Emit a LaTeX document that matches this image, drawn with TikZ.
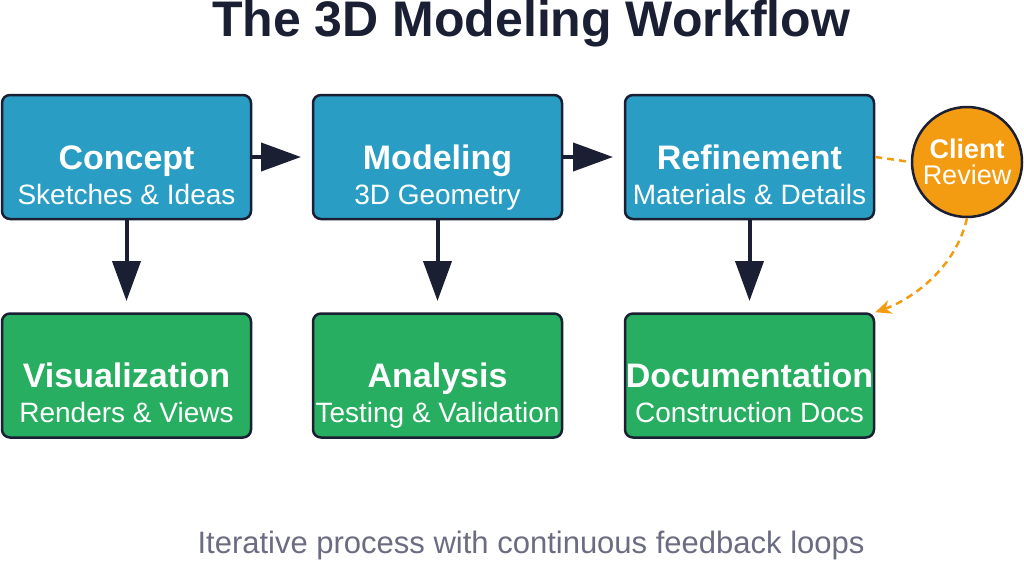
\documentclass[tikz,border=0pt]{standalone}
\usepackage{fontspec}
\setmainfont{Liberation Sans}
\usetikzlibrary{arrows.meta}
\definecolor{dk}{HTML}{1B1F33}
\definecolor{bl}{HTML}{2A9DC4}
\definecolor{gr}{HTML}{27AE60}
\definecolor{orng}{HTML}{F39C12}
\definecolor{gy}{HTML}{6B6C82}
\tikzset{
 box/.style={draw=dk,line width=2.5pt,rounded corners=8pt,minimum width=249pt,minimum height=124pt,inner sep=0pt},
 blue box/.style={box,fill=bl},
 green box/.style={box,fill=gr},
 head/.style={text=white,inner sep=0pt,anchor=base,font=\fontsize{34}{38}\selectfont\bfseries},
 sub/.style={text=white,inner sep=0pt,anchor=base,font=\fontsize{28}{32}\selectfont},
 flow/.style={draw=dk,line width=4pt,-{Triangle[length=40pt,width=28pt]}},
 dash line/.style={draw=orng,line width=2.5pt,dash pattern=on 7pt off 5pt},
}
\begin{document}
\begin{tikzpicture}[x=1pt,y=-1pt]
\useasboundingbox (0,0) rectangle (1024,560);
\node[text=dk,anchor=base,inner sep=0pt,font=\fontsize{50}{54}\selectfont\bfseries] (title) at (531,36) {The 3D Modeling Workflow};
\node[blue box] (c) at (126.5,157) {};
\node[blue box] (m) at (437.5,157) {};
\node[blue box] (r) at (749.5,157) {};
\node[green box] (v) at (126.5,375.5) {};
\node[green box] (a) at (437.5,375.5) {};
\node[green box] (d) at (749.5,375.5) {};
\node[head] (ct) at ([yshift=-12pt]c.center) {Concept};
\node[sub] (cs) at ([yshift=-47pt]c.center) {Sketches \& Ideas};
\node[head] (mt) at ([yshift=-12pt]m.center) {Modeling};
\node[sub] (ms) at ([yshift=-47pt]m.center) {3D Geometry};
\node[head] (rt) at ([yshift=-12pt]r.center) {Refinement};
\node[sub] (rs) at ([yshift=-47pt]r.center) {Materials \& Details};
\node[head] (vt) at ([yshift=-11.5pt]v.center) {Visualization};
\node[sub] (vs) at ([yshift=-46.5pt]v.center) {Renders \& Views};
\node[head] (at) at ([yshift=-11.5pt]a.center) {Analysis};
\node[sub] (as) at ([yshift=-46.5pt]a.center) {Testing \& Validation};
\node[head] (dt) at ([yshift=-11.5pt]d.center) {Documentation};
\node[sub] (ds) at ([yshift=-46.5pt]d.center) {Construction Docs};
\node[circle,draw=dk,line width=2.5pt,fill=orng,minimum size=110pt,inner sep=0pt] (cr) at (967,162) {};
\node[text=white,inner sep=0pt,anchor=base,font=\fontsize{27}{30}\selectfont\bfseries] (crt) at ([yshift=4pt]cr.center) {Client};
\node[text=white,inner sep=0pt,anchor=base,font=\fontsize{27}{30}\selectfont] (crs) at ([yshift=-22pt]cr.center) {Review};
\coordinate (m1) at (301,157);
\coordinate (r1) at (613,157);
\draw[flow] (c.east) -- (m1);
\draw[flow] (m.east) -- (r1);
\coordinate (v1) at (126.5,301);
\coordinate (a1) at (437.5,301);
\coordinate (d1) at (749.5,301);
\draw[flow] (c.south) -- (v1);
\draw[flow] (m.south) -- (a1);
\draw[flow] (r.south) -- (d1);
\draw[dash line] (r.east) -- (cr.west);
\draw[dash line,-{Stealth[length=16pt,width=14pt]}] (cr.south) .. controls (955,270) and (910,300) .. (d.north east);
\node[text=gy,anchor=base,inner sep=0pt,font=\fontsize{31}{34}\selectfont] (foot) at (531,553) {Iterative process with continuous feedback loops};
\end{tikzpicture}
\end{document}
